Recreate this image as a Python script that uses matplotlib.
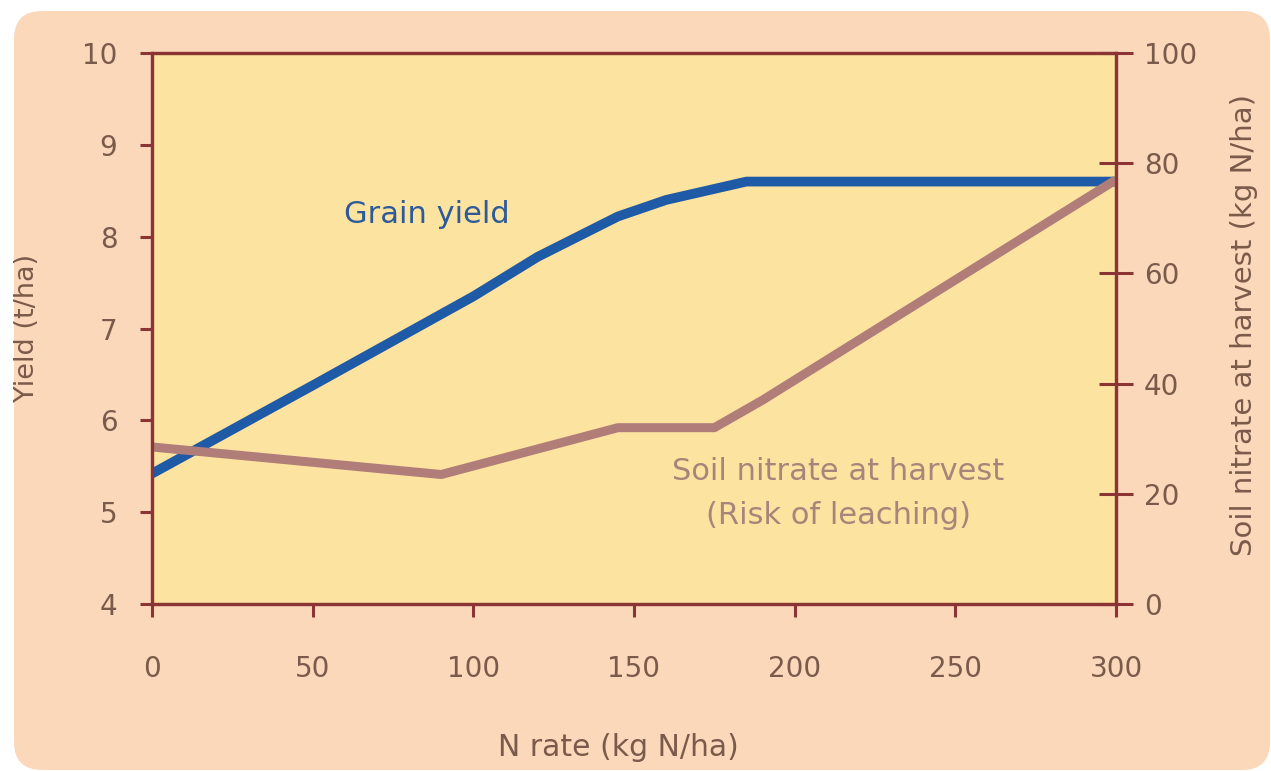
import matplotlib
matplotlib.use("Agg")
import matplotlib.pyplot as plt
from matplotlib.patches import FancyBboxPatch

# N rate (kg N/ha) vs grain yield (t/ha)
yield_rate = [0, 50, 100, 120, 145, 160, 175, 185, 300]
grain_yield = [5.42, 6.38, 7.35, 7.78, 8.22, 8.40, 8.52, 8.60, 8.60]

# N rate vs soil nitrate at harvest (kg N/ha)
nitrate_rate = [0, 90, 145, 175, 190, 300]
soil_nitrate = [28.5, 23.5, 32, 32, 37, 77]

x_ticks = [0, 50, 100, 150, 200, 250, 300]
yield_ticks = [4, 5, 6, 7, 8, 9, 10]
nitrate_ticks = [0, 20, 40, 60, 80, 100]

PEACH = "#fcd8bb"
PLOT_BG = "#fde3a0"
SPINE = "#8a3434"
TEXT = "#7a5a4a"
BLUE = "#1f5aa6"
MAUVE = "#b17d79"

plt.rcParams["font.family"] = ["DejaVu Sans"]

fig = plt.figure(figsize=(12.71, 7.71), dpi=100)
fig.patch.set_facecolor("white")
bg = FancyBboxPatch((14, 1), 1256, 759, boxstyle="round,pad=0,rounding_size=28",
                    transform=None, facecolor=PEACH, edgecolor="none", zorder=-10)
fig.patches.append(bg)

ax = fig.add_axes([152 / 1271, 1 - 604 / 771, (1116 - 152) / 1271, (604 - 53) / 771])
ax.set_facecolor(PLOT_BG)
ax2 = ax.twinx()

ax.plot(yield_rate, grain_yield, color=BLUE, lw=7, solid_capstyle="butt", zorder=3)
ax2.plot(nitrate_rate, soil_nitrate, color=MAUVE, lw=6.5, solid_capstyle="butt", zorder=2)

ax.set_xlim(0, 300)
ax.set_ylim(4, 10)
ax2.set_ylim(0, 100)
ax.set_xticks(x_ticks)
ax.set_yticks(yield_ticks)
ax2.set_yticks(nitrate_ticks)

for a in (ax, ax2):
    for s in a.spines.values():
        s.set_color(SPINE)
        s.set_linewidth(2.3)

ax.tick_params(axis="x", direction="out", length=9, width=2.2, color=SPINE,
               labelsize=20, labelcolor=TEXT, pad=28)
ax.tick_params(axis="y", direction="out", length=9, width=2.2, color=SPINE,
               labelsize=20, labelcolor=TEXT, pad=16)
ax2.tick_params(axis="y", direction="inout", length=24, width=2.2, color=SPINE,
                labelsize=20, labelcolor=TEXT, pad=8)

ax.text(0.285, 0.706, "Grain yield", transform=ax.transAxes, fontsize=22,
        color="#2d5a98", ha="center", va="center")
ax.text(0.712, 0.20, "Soil nitrate at harvest\n(Risk of leaching)", transform=ax.transAxes,
        fontsize=22, color="#a8857a", ha="center", va="center", linespacing=1.65)

fig.text(618 / 1271, 1 - 748 / 771, "N rate (kg N/ha)", fontsize=21.5, color=TEXT,
         ha="center", va="center")
fig.text(27 / 1271, 1 - 328 / 771, "Yield (t/ha)", fontsize=19.5, color=TEXT,
         ha="center", va="center", rotation=90)
fig.text(1244 / 1271, 1 - 325 / 771, "Soil nitrate at harvest (kg N/ha)", fontsize=21,
         color=TEXT, ha="center", va="center", rotation=90)

fig.savefig("out.png", dpi=100)
